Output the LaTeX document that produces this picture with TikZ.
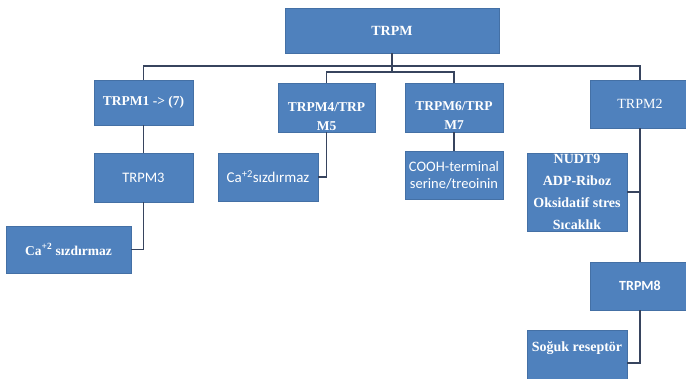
\documentclass[tikz,border=0pt]{standalone}
\usepackage{fontspec}
\setmainfont{Liberation Serif}
\newfontfamily\calib{Carlito}
\definecolor{boxblue}{RGB}{79,129,189}
\definecolor{boxedge}{RGB}{68,112,165}
\definecolor{linec}{RGB}{55,68,94}
\begin{document}
\begin{tikzpicture}[x=1pt,y=-1pt,
  box/.style={fill=boxblue, draw=boxedge, line width=0.6pt, text=white, inner sep=0pt, align=center},
  txt/.style={text=white, inner sep=0pt, align=center},
  conn/.style={draw=linec, line width=1.9pt},
  serb/.style={font=\fontsize{13.5}{16}\selectfont\bfseries},
  sans/.style={font=\fontsize{15}{17}\selectfont\calib}]
\useasboundingbox (0,0) rectangle (686,379);
\clip (0,0) rectangle (686,379);

\node[box, minimum width=214pt, minimum height=45pt, font=\fontsize{14}{17}\selectfont\bfseries] (trpm) at (392,30.5) {TRPM};

\node[box, serb, minimum width=99pt, minimum height=45pt] (trpm1) at (143.5,102.5) {TRPM1 -> (7)};
\node[box, minimum width=97pt, minimum height=49pt] (trpm45) at (326.5,107.5) {};
\node[txt, font=\fontsize{13.5}{19}\selectfont\bfseries] (t45) at (326.5,117) {TRPM4/TRP\\M5};
\node[box, minimum width=98pt, minimum height=49pt] (trpm67) at (454,107.5) {};
\node[txt, font=\fontsize{13.5}{19}\selectfont\bfseries] (t67) at (454,116) {TRPM6/TRP\\M7};
\node[box, minimum width=100pt, minimum height=48pt, font=\fontsize{14}{17}\selectfont] (trpm2) at (640,104) {TRPM2};

\node[box, font=\fontsize{14.5}{17}\selectfont\calib, minimum width=99pt, minimum height=49pt] (trpm3) at (143.5,177.5) {TRPM3};
\node[box, sans, minimum width=100pt, minimum height=48pt] (cam) at (268,177) {Ca\textsuperscript{+2}sızdırmaz};
\node[box, minimum width=98pt, minimum height=48pt, font=\fontsize{14.5}{17}\selectfont\calib] (cooh) at (454,175) {COOH-terminal\\serine/treoinin};
\node[box, serb, minimum width=125pt, minimum height=47pt] (cab) at (68.5,249.5) {Ca\textsuperscript{+2} sızdırmaz};

\node[box, minimum width=100pt, minimum height=78pt, font=\fontsize{14}{22}\selectfont\bfseries] (nudt) at (577,192) {NUDT9\\ADP-Riboz\\Oksidatif stres\\Sıcaklık};
\node[box, minimum width=100pt, minimum height=48pt, font=\fontsize{14}{17}\selectfont\calib\bfseries] (trpm8) at (640,286) {TRPM8};
\node[box, minimum width=100pt, minimum height=66pt] (soguk) at (577,363) {};
\node[txt, font=\fontsize{14}{16}\selectfont\bfseries] (tsog) at (577,348) {Soğuk reseptör};

% connectors
\draw[conn] (trpm.south) -- ++(0,13) coordinate (busm);
\draw[conn] (trpm1.north) -- (trpm1.north |- busm) -- (trpm2.north |- busm) -- (trpm2.north);
\draw[conn] (busm) -- ++(0,6) coordinate (inner);
\draw[conn] (trpm45.north) -- (trpm45.north |- inner) -- (trpm67.north |- inner) -- (trpm67.north);
\draw[conn] (trpm1.south) -- (trpm3.north);
\draw[conn] (trpm3.south) |- (cab.east);
\draw[conn] (trpm45.south) |- (cam.east);
\draw[conn] (trpm67.south) -- (cooh.north);
\draw[conn] (trpm2.south) -- (trpm8.north);
\draw[conn] (trpm2.south |- nudt.east) -- (nudt.east);
\draw[conn] (trpm8.south) |- (soguk.east);
\end{tikzpicture}
\end{document}
